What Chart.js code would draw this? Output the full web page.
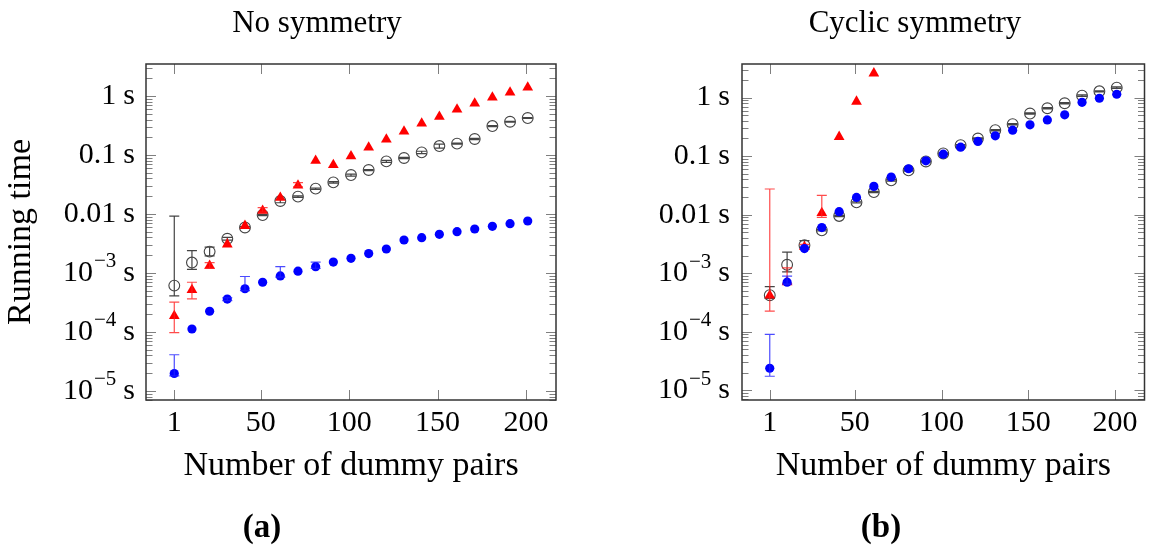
<!DOCTYPE html>
<html>
<head>
<meta charset="utf-8">
<script src="https://cdn.jsdelivr.net/npm/chart.js@4/dist/chart.umd.min.js"></script>
<style>
  html, body { margin: 0; padding: 0; background: #fff; }
  body { width: 1151px; height: 546px; position: relative; overflow: hidden; font-family: 'Liberation Serif', 'DejaVu Serif', serif; }
  canvas { position: absolute; top: 0; }
  .lbl { position: absolute; line-height: 1; white-space: nowrap; transform: translateX(-50%); color: #000; }
  .ttl { font-size: 31px; top: 6px; }
  .sub { font-size: 33px; font-weight: bold; top: 510px; }
</style>
</head>
<body>
<canvas id="chartA" width="575" height="546" style="left:0px"></canvas>
<canvas id="chartB" width="555" height="546" style="left:596px"></canvas>
<div class="lbl ttl" style="left:317px">No symmetry</div>
<div class="lbl ttl" style="left:915px">Cyclic symmetry</div>
<div class="lbl sub" style="left:262px">(a)</div>
<div class="lbl sub" style="left:881px">(b)</div>
<script>
// ---- DATA ----
const pairs = [1, 11, 21, 31, 41, 51, 61, 71, 81, 91, 101, 111, 121, 131, 141, 151, 161, 171, 181, 191, 201];
const xTicks = [1, 50, 100, 150, 200];
const yTicks = [1e-5, 1e-4, 1e-3, 0.01, 0.1, 1];
// [base, exponent] for each y tick, unit appended when drawn
const yTickLabels = [['10', '−5'], ['10', '−4'], ['10', '−3'], ['0.01', ''], ['0.1', ''], ['1', '']];

// (a) no symmetry
const blackA   = [6.1e-4, 1.5e-3, 2.3e-3, 3.8e-3, 5.9e-3, 9.6e-3, 0.0166, 0.0197, 0.0269, 0.0344, 0.0458, 0.0557, 0.078, 0.089, 0.111, 0.142, 0.156, 0.187, 0.310, 0.367, 0.424];
const blackALo = [4.1e-4, 1.15e-3, 1.95e-3, 3.6e-3, 5.7e-3, 9.35e-3, 0.0155, 0.0191, 0.0262, 0.0335, 0.0440, 0.0546, 0.075, 0.087, 0.106, 0.131, 0.153, 0.183, 0.304, 0.361, 0.417];
const blackAHi = [9.2e-3, 2.4e-3, 2.75e-3, 4.0e-3, 6.1e-3, 9.85e-3, 0.0178, 0.0203, 0.0276, 0.0353, 0.0476, 0.0568, 0.081, 0.091, 0.116, 0.153, 0.159, 0.191, 0.316, 0.373, 0.431];
const redA     = [1.87e-4, 5.15e-4, 1.33e-3, 3.06e-3, 6.3e-3, 0.0114, 0.0189, 0.0306, 0.080, 0.0677, 0.096, 0.135, 0.184, 0.252, 0.344, 0.446, 0.594, 0.751, 0.949, 1.15, 1.40];
const redALo   = [9.7e-5, 3.63e-4, 1.2e-3, null, null, 0.0108, null, 0.029, null, null, null, null, null, null, null, null, null, null, null, null, null];
const redAHi   = [3.2e-4, 6.95e-4, 1.5e-3, null, null, 0.0128, null, 0.034, null, null, null, null, null, null, null, null, null, null, null, null, null];
const blueA    = [1.97e-5, 1.12e-4, 2.24e-4, 3.6e-4, 5.4e-4, 6.95e-4, 8.9e-4, 1.07e-3, 1.28e-3, 1.53e-3, 1.77e-3, 2.13e-3, 2.55e-3, 3.62e-3, 3.97e-3, 4.52e-3, 5.02e-3, 5.57e-3, 6.18e-3, 6.86e-3, 7.6e-3];
const blueALo  = [1.8e-5, null, null, 3.4e-4, 5.0e-4, null, 8.5e-4, null, 1.2e-3, null, null, null, null, null, null, null, null, null, null, null, null];
const blueAHi  = [4.1e-5, null, null, 3.8e-4, 8.7e-4, null, 1.28e-3, null, 1.53e-3, null, null, null, null, null, null, null, null, null, null, null, null];

// (b) cyclic symmetry
const blackB   = [4.2e-4, 1.39e-3, 3.0e-3, 5.4e-3, 9.5e-3, 0.0162, 0.0243, 0.0385, 0.057, 0.081, 0.111, 0.154, 0.200, 0.277, 0.351, 0.534, 0.658, 0.80, 1.08, 1.28, 1.48];
const blackBLo = [3.7e-4, 1.05e-3, 2.75e-3, 5.25e-3, 9.25e-3, 0.0158, 0.0237, 0.0375, 0.0556, 0.079, 0.108, 0.150, 0.195, 0.270, 0.342, 0.521, 0.642, 0.78, 1.05, 1.25, 1.44];
const blackBHi = [5.9e-4, 2.28e-3, 3.6e-3, 5.55e-3, 9.75e-3, 0.0166, 0.0249, 0.0395, 0.0584, 0.083, 0.114, 0.158, 0.205, 0.284, 0.360, 0.547, 0.674, 0.82, 1.11, 1.31, 1.52];
const redPairsB = [1, 11, 21, 31, 41, 51, 61];
const redB     = [4.17e-4, 7.0e-4, 2.8e-3, 0.0107, 0.214, 0.855, 2.6];
const redBLo   = [2.25e-4, 6.7e-4, 2.6e-3, 9.0e-3, null, null, null];
const redBHi   = [0.0274, 1.23e-3, 3.1e-3, 0.0213, null, null, null];
const blueB    = [2.37e-5, 7.0e-4, 2.63e-3, 6.0e-3, 0.01125, 0.0197, 0.0304, 0.0439, 0.0608, 0.0832, 0.108, 0.142, 0.178, 0.222, 0.277, 0.342, 0.416, 0.507, 0.83, 0.975, 1.14];
const blueBLo  = [1.73e-5, 6.5e-4, null, null, null, null, null, null, null, null, null, null, null, null, null, null, null, null, null, null, null];
const blueBHi  = [9.0e-5, 8.9e-4, null, null, null, null, null, null, null, null, null, null, null, null, null, null, null, null, null, null, null];

const serif = "'Liberation Serif', 'DejaVu Serif', serif";

// ---- PLUGINS ----
// frame with inward major/minor ticks (pgfplots look)
const frameTicks = {
  id: 'frameTicks',
  beforeDatasetsDraw(chart) {
    const {ctx, chartArea: a, scales: {x, y}} = chart;
    ctx.save();
    ctx.strokeStyle = 'rgba(0,0,0,0.5)';
    ctx.lineWidth = 1;
    ctx.beginPath();
    xTicks.forEach(v => {
      const px = Math.round(x.getPixelForValue(v)) + 0.5;
      ctx.moveTo(px, a.bottom); ctx.lineTo(px, a.bottom - 10);
      ctx.moveTo(px, a.top); ctx.lineTo(px, a.top + 10);
    });
    const d0 = Math.floor(Math.log10(y.min)), d1 = Math.ceil(Math.log10(y.max));
    for (let d = d0; d <= d1; d++) {
      for (let k = 1; k <= 9; k++) {
        const v = k * Math.pow(10, d);
        if (v < y.min || v > y.max) continue;
        const py = Math.round(y.getPixelForValue(v)) + 0.5;
        const len = k === 1 ? 10 : 6.5;
        ctx.moveTo(a.left, py); ctx.lineTo(a.left + len, py);
        ctx.moveTo(a.right, py); ctx.lineTo(a.right - len, py);
      }
    }
    ctx.stroke();
    ctx.strokeStyle = '#333';
    ctx.lineWidth = 1.5;
    ctx.strokeRect(a.left, a.top, a.right - a.left, a.bottom - a.top);
    ctx.restore();
  }
};

// y tick labels with real superscripts
const yLabels = {
  id: 'yLabels',
  afterDraw(chart, args, opts) {
    const {ctx, chartArea: a, scales: {y}} = chart;
    ctx.save();
    ctx.fillStyle = '#000';
    ctx.textBaseline = 'middle';
    ctx.textAlign = 'left';
    const big = '30px ' + serif, small = '21px ' + serif;
    yTicks.forEach((v, i) => {
      const [base, exp] = yTickLabels[i];
      const py = y.getPixelForValue(v);
      ctx.font = big;
      const wBase = ctx.measureText(base).width;
      const wUnit = ctx.measureText('s').width;
      const gap = 7;
      ctx.font = small;
      const wExp = exp ? ctx.measureText(exp).width + 1 : 0;
      let xx = a.left - opts.pad - (wBase + wExp + gap + wUnit);
      ctx.font = big;
      ctx.fillText(base, xx, py);
      xx += wBase;
      if (exp) {
        ctx.font = small;
        ctx.fillText(exp, xx + 1, py - 11);
        xx += wExp;
      }
      ctx.font = big;
      ctx.fillText('s', xx + gap, py);
    });
    ctx.restore();
  }
};

const errorBars = {
  id: 'errorBars',
  afterDatasetDraw(chart, args) {
    const ds = chart.data.datasets[args.index];
    if (!ds.errLo) return;
    const {ctx, scales: {x, y}} = chart;
    ctx.save();
    ctx.strokeStyle = ds.errColor;
    ctx.lineWidth = 1.2;
    ctx.beginPath();
    ds.data.forEach((p, i) => {
      const lo = ds.errLo[i], hi = ds.errHi[i];
      if (lo == null && hi == null) return;
      const px = x.getPixelForValue(p.x);
      const y0 = y.getPixelForValue(lo ?? p.y), y1 = y.getPixelForValue(hi ?? p.y);
      ctx.moveTo(px, y0); ctx.lineTo(px, y1);
      if (lo != null) { ctx.moveTo(px - 5, y0); ctx.lineTo(px + 5, y0); }
      if (hi != null) { ctx.moveTo(px - 5, y1); ctx.lineTo(px + 5, y1); }
    });
    ctx.stroke();
    ctx.restore();
  }
};

// ---- HELPERS ----
const pts = (xs, ys) => ys.map((v, i) => ({x: xs[i], y: v}));

function blueSet(ys, lo, hi) {
  return {data: pts(pairs, ys), pointStyle: 'circle', pointRadius: 4.6, backgroundColor: '#0000ff', borderWidth: 0,
          errLo: lo, errHi: hi, errColor: 'rgba(30,30,255,0.8)'};
}
function redSet(xs, ys, lo, hi) {
  return {data: pts(xs, ys), pointStyle: 'triangle', pointRadius: 6.2, backgroundColor: '#ff0000', borderColor: '#ff0000', borderWidth: 0,
          errLo: lo, errHi: hi, errColor: 'rgba(255,30,30,0.8)'};
}
function blackSet(ys, lo, hi) {
  return {data: pts(pairs, ys), pointStyle: 'circle', pointRadius: 5.4, backgroundColor: 'rgba(0,0,0,0)', borderColor: '#444', borderWidth: 1.1,
          errLo: lo, errHi: hi, errColor: '#444'};
}

function makeChart(id, datasets, yMin, yMax, showYTitle, tickPad, rightPad) {
  return new Chart(document.getElementById(id), {
    type: 'scatter',
    data: {datasets},
    options: {
      responsive: false,
      animation: false,
      devicePixelRatio: 1,
      layout: {padding: {left: 0, right: rightPad, top: 64, bottom: 0}},
      plugins: {legend: {display: false}, tooltip: {enabled: false}, yLabels: {pad: tickPad}},
      scales: {
        x: {
          type: 'linear', min: -15, max: 217,
          afterBuildTicks: s => { s.ticks = xTicks.map(v => ({value: v})); },
          afterFit: s => { s.height = 146; s.paddingLeft = 0; s.paddingRight = 0; },
          grid: {display: false, drawTicks: false},
          border: {display: false},
          ticks: {padding: 5, color: '#000', font: {family: serif, size: 30}, maxRotation: 0, autoSkip: false,
                  callback: v => String(v)},
          title: {display: true, text: 'Number of dummy pairs', color: '#000', font: {family: serif, size: 34},
                  padding: {top: 0, bottom: 60}}
        },
        y: {
          type: 'logarithmic', min: yMin, max: yMax,
          afterBuildTicks: s => { s.ticks = yTicks.map(v => ({value: v})); },
          afterFit: s => { s.width = 146; s.paddingTop = 0; s.paddingBottom = 0; },
          grid: {display: false, drawTicks: false},
          border: {display: false},
          ticks: {display: false},
          title: {display: showYTitle, text: 'Running time', color: '#000', font: {family: serif, size: 34},
                  padding: {top: 1, bottom: 0}}
        }
      }
    },
    plugins: [frameTicks, errorBars, yLabels]
  });
}

// datasets listed top-most first (Chart.js draws the first dataset last)
makeChart('chartA', [
  blueSet(blueA, blueALo, blueAHi),
  redSet(pairs, redA, redALo, redAHi),
  blackSet(blackA, blackALo, blackAHi)
], 7.0e-6, 3.5, true, 11, 19);

makeChart('chartB', [
  blueSet(blueB, blueBLo, blueBHi),
  redSet(redPairsB, redB, redBLo, redBHi),
  blackSet(blackB, blackBLo, blackBHi)
], 6.8e-6, 3.75, false, 12, 1);
</script>
</body>
</html>
